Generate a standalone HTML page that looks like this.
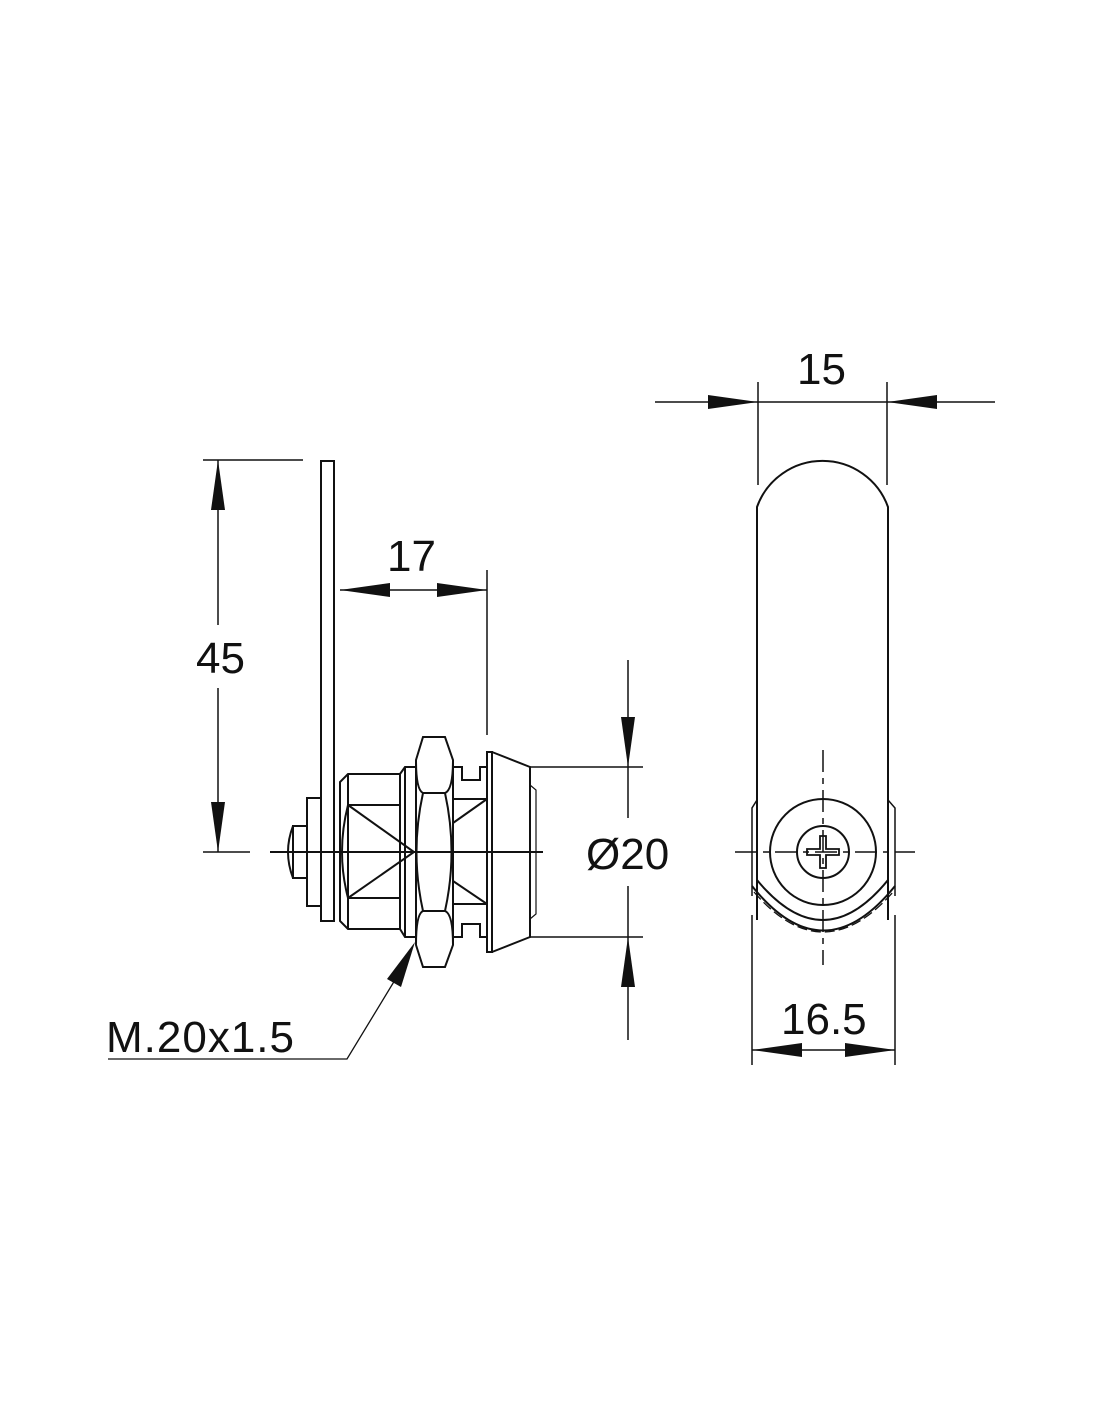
<!DOCTYPE html>
<html><head><style>
html,body{margin:0;padding:0;background:#fff;}
svg{display:block;}
text{font-family:"Liberation Sans",Arial,sans-serif;font-size:44px;fill:#111;}
</style></head><body>
<svg width="1100" height="1422" viewBox="0 0 1100 1422" xmlns="http://www.w3.org/2000/svg">
<g fill="none" stroke="#111" stroke-width="2">
<rect x="321" y="461" width="13" height="460"/>
<rect x="307" y="798" width="14" height="108"/>
<rect x="293" y="826" width="14" height="52"/>
<path d="M293 826 Q283 852 293 878"/>
<path d="M348 774 L400 774 L400 929 L348 929 L340 921 L340 782 Z"/>
<path d="M348 774 L348 929"/>
<path d="M348 805 L400 805 M348 898 L400 898"/>
<path d="M348 805 Q336 852 348 898"/>
<path d="M348 805 L414 852 L348 898"/>
<path d="M400 774 L405 767 L416 767 L416 937 L405 937 L400 929"/>
<path d="M405 767 L405 937"/>
<path d="M423 737 L445 737 L453 760 L453 945 L445 967 L423 967 L416 945 L416 760 Z"/>
<path d="M416 760 Q416 790 423 793 L445 793 Q453 790 453 760"/>
<path d="M416 945 Q416 914 423 911 L445 911 Q453 914 453 945"/>
<path d="M423 793 Q410 852 423 911 M445 793 Q458 852 445 911"/>
<path d="M453 767 L462 767 L462 780 L480 780 L480 767 L487 767 M453 937 L462 937 L462 924 L480 924 L480 937 L487 937"/>
<path d="M453 799 L487 799 M453 904 L487 904"/>
<path d="M453 823 L487 799 M453 881 L487 904"/>
<rect x="487" y="752" width="5" height="200"/>
<path d="M492 752 L530 767 L530 937 L492 952"/>
<path d="M530 785 L536 790 L536 914 L530 919" stroke-width="1.2"/>
<path d="M270 852 L543 852"/>
<path d="M530 767 L643 767 M530 937 L643 937" stroke-width="1.5"/>
<path d="M628 660 L628 818 M628 886 L628 1040" stroke-width="1.5"/>
<path d="M218 460 L218 625 M218 688 L218 852 M203 460 L303 460 M203 852 L250 852" stroke-width="1.5"/>
<path d="M340 590 L487 590 M487 570 L487 735" stroke-width="1.5"/>
<path d="M398 975 L347 1059 L108 1059" stroke-width="1.3"/>
<path d="M757 920 L757 507 A69.6 69.6 0 0 1 888 507 L888 920"/>
<path d="M757 800 L752 808 L752 896 M888 800 L895 808 L895 896" stroke-width="1.5"/>
<path d="M752 886 Q823 975 895 886"/>
<path d="M757 880 Q823 960 888 880"/>
<path d="M754 892 Q823 972 893 892" stroke-dasharray="10 4" stroke-width="1.3"/>
<circle cx="823" cy="852" r="53"/>
<circle cx="823" cy="852" r="26"/>
<path d="M820 836 L826 836 L826 849 L839 849 L839 855 L826 855 L826 868 L820 868 L820 855 L807 855 L807 849 L820 849 Z" stroke-width="1.8"/>
<path d="M823 750 L823 965 M735 852 L915 852" stroke-dasharray="22 6 6 6" stroke-width="1.5"/>
<path d="M758 382 L758 485 M887 382 L887 485 M655 402 L995 402" stroke-width="1.5"/>
<path d="M752 915 L752 1065 M895 915 L895 1065 M752 1050 L895 1050" stroke-width="1.5"/>
</g>
<g fill="#111" stroke="none">
<polygon points="218,460 211,510 225,510"/>
<polygon points="218,852 211,802 225,802"/>
<polygon points="340,590 390,583 390,597"/>
<polygon points="487,590 437,583 437,597"/>
<polygon points="628,767 621,717 635,717"/>
<polygon points="628,937 621,987 635,987"/>
<polygon points="758,402 708,395 708,409"/>
<polygon points="887,402 937,395 937,409"/>
<polygon points="752,1050 802,1043 802,1057"/>
<polygon points="895,1050 845,1043 845,1057"/>
<polygon points="415,942 387,979 401,987"/>
</g>
<text x="196" y="673">45</text>
<text x="387" y="571">17</text>
<text x="586" y="869">Ø20</text>
<text x="797" y="384">15</text>
<text x="781" y="1034">16.5</text>
<text x="106" y="1052" style="letter-spacing:1px">M.20x1.5</text>
</svg>
</body></html>
